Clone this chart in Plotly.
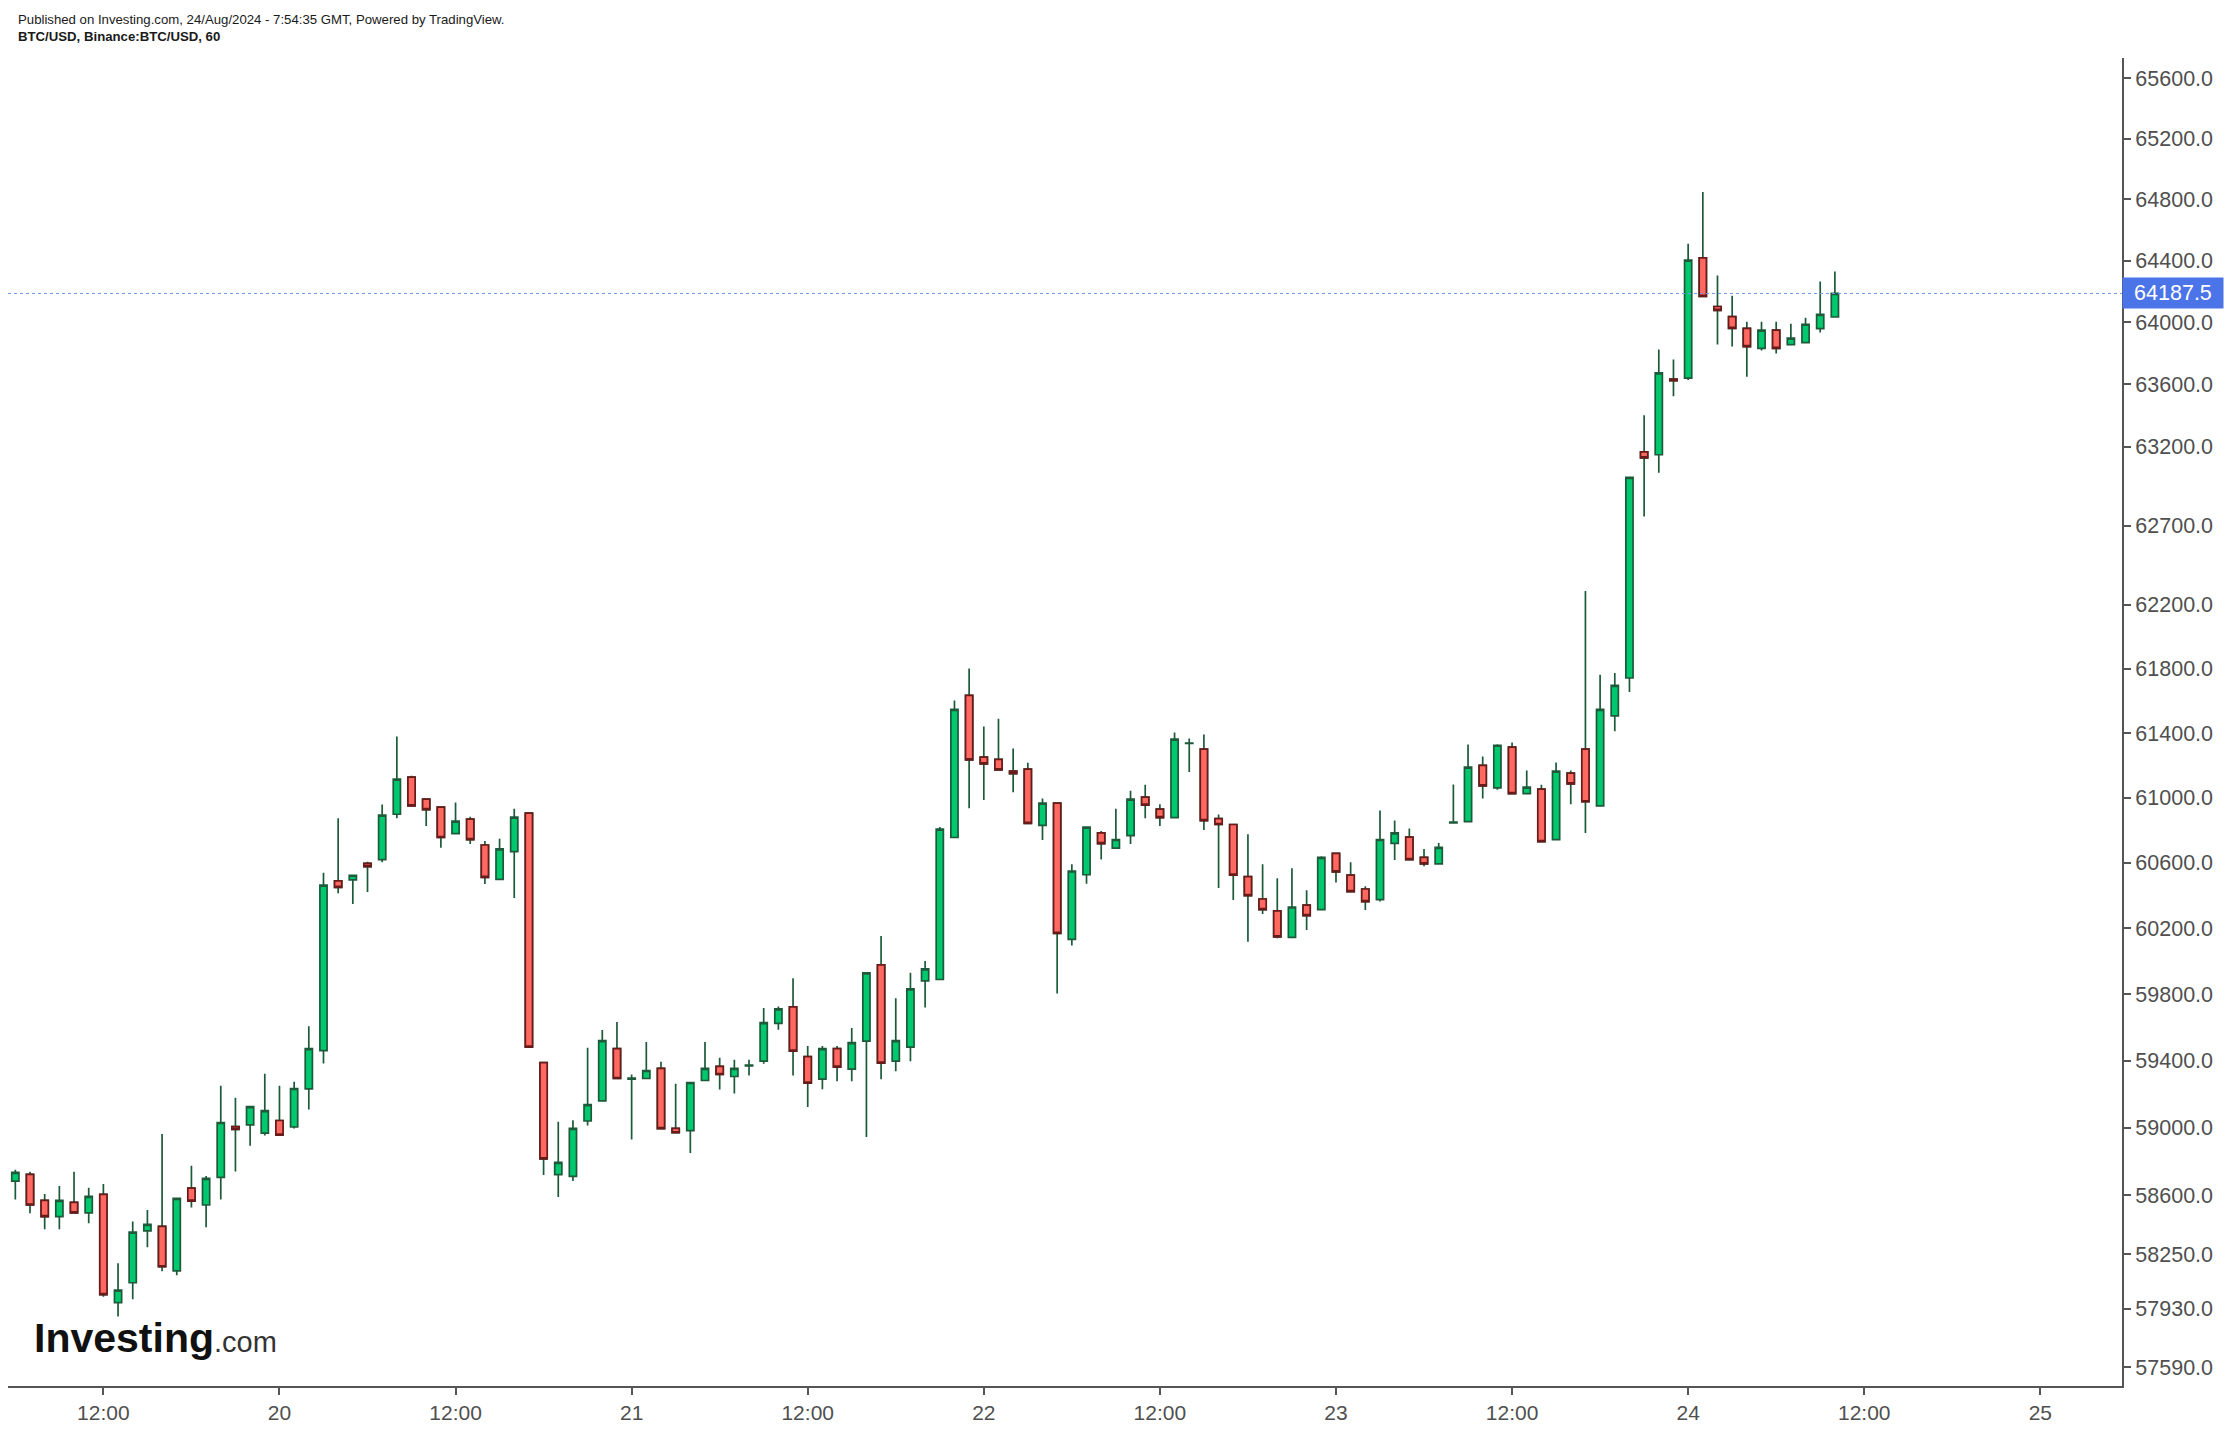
import math
import pandas as pd
import plotly.graph_objects as go

# ---- data (hourly BTC/USD candles, Aug 19 06:00 -> Aug 24 10:00) ----
open_ = [58683, 58722, 58568, 58472, 58556, 58494, 58604, 57966, 58083, 58388,
         58415, 58153, 58641, 58541, 58705, 59007, 59017, 58968, 59043, 59004,
         59232, 59461, 60489, 60496, 60597, 60620, 60898, 61127, 60991, 60942,
         60779, 60868, 60709, 60499, 60668, 60905, 59389, 58721, 58710, 59040,
         59160, 59473, 59290, 59294, 59354, 58996, 58982, 59282, 59366, 59306,
         59370, 59398, 59625, 59725, 59425, 59290, 59473, 59350, 59518, 59979,
         59398, 59482, 59881, 59890, 60755, 61634, 61250, 61237, 61164, 61176,
         60829, 60966, 60133, 60527, 60783, 60690, 60767, 61003, 60929, 60877,
         61335, 61300, 60871, 60835, 60516, 60379, 60306, 60145, 60342, 60314,
         60658, 60525, 60440, 60375, 60719, 60758, 60633, 60593, 60845, 60853,
         61200, 61061, 61312, 61025, 61053, 60742, 61152, 61300, 60950, 61506,
         61742, 63169, 63150, 63635, 63641, 64419, 64103, 64038, 63962, 63832,
         63950, 63856, 63870, 63960, 64035]
high = [58750, 58738, 58606, 58653, 58738, 58643, 58665, 58197, 58443, 58512,
        58963, 58585, 58774, 58713, 59250, 59178, 59130, 59322, 59250, 59274,
        59607, 60539, 60873, 60524, 60607, 60958, 61378, 61135, 60995, 60945,
        60970, 60883, 60733, 60748, 60932, 60905, 59389, 59035, 59045, 59478,
        59585, 59633, 59318, 59513, 59394, 59262, 59270, 59513, 59418, 59406,
        59406, 59717, 59727, 59898, 59489, 59489, 59489, 59597, 59930, 60153,
        59777, 59930, 60002, 60819, 61601, 61801, 61440, 61489, 61304, 61216,
        60995, 60966, 60591, 60819, 60795, 60932, 61043, 61079, 60960, 61403,
        61366, 61390, 60897, 60835, 60775, 60591, 60505, 60567, 60432, 60640,
        60660, 60603, 60456, 60921, 60860, 60811, 60685, 60722, 61081, 61329,
        61255, 61330, 61341, 61168, 61079, 61217, 61168, 62287, 61762, 61773,
        63006, 63402, 63825, 63761, 64511, 64848, 64304, 64172, 64004, 64004,
        64004, 63992, 64030, 64265, 64330]
low = [58574, 58492, 58398, 58398, 58490, 58433, 58001, 57885, 57987, 58292,
       58151, 58127, 58527, 58410, 58574, 58740, 58893, 58954, 58950, 58995,
       59108, 59384, 60414, 60348, 60421, 60604, 60874, 60945, 60825, 60693,
       60779, 60715, 60471, 60499, 60385, 59482, 58719, 58588, 58683, 59013,
       59160, 59294, 58930, 59294, 58994, 58970, 58849, 59282, 59228, 59204,
       59312, 59383, 59587, 59312, 59123, 59230, 59278, 59278, 58944, 59290,
       59338, 59398, 59721, 59890, 60755, 60935, 60985, 61172, 61034, 60842,
       60740, 59805, 60096, 60472, 60620, 60690, 60715, 60874, 60825, 60874,
       61158, 60801, 60446, 60373, 60118, 60288, 60140, 60140, 60190, 60310,
       60480, 60424, 60312, 60363, 60617, 60620, 60579, 60593, 60845, 60853,
       60995, 61049, 61025, 61025, 60730, 60742, 60960, 60782, 60950, 61410,
       61654, 62758, 63036, 63525, 63629, 64168, 63858, 63845, 63650, 63818,
       63799, 63856, 63870, 63935, 64035]
close = [58734, 58541, 58472, 58568, 58494, 58592, 58013, 58040, 58381, 58427,
         58177, 58580, 58564, 58699, 59031, 58990, 59126, 59102, 58956, 59234,
         59473, 60464, 60450, 60524, 60577, 60893, 61114, 60950, 60926, 60755,
         60856, 60742, 60511, 60685, 60880, 59482, 58814, 58794, 58996, 59138,
         59521, 59294, 59296, 59342, 58994, 58970, 59270, 59354, 59318, 59354,
         59374, 59629, 59713, 59458, 59266, 59473, 59362, 59509, 59930, 59386,
         59521, 59833, 59954, 60807, 61547, 61234, 61209, 61172, 61148, 60842,
         60966, 60169, 60550, 60819, 60718, 60743, 60991, 60954, 60877, 61362,
         61338, 60859, 60835, 60525, 60399, 60314, 60148, 60330, 60277, 60633,
         60544, 60424, 60363, 60743, 60783, 60620, 60593, 60694, 60850, 61188,
         61073, 61324, 61025, 61065, 60730, 61164, 61085, 60975, 61547, 61696,
         63006, 63130, 63674, 63625, 64404, 64168, 64078, 63962, 63844, 63950,
         63832, 63898, 63988, 64052, 64187.5]

last_price = 64187.5
x_tick_vals = ["2024-08-19 12:00", "2024-08-20 00:00", "2024-08-20 12:00", "2024-08-21 00:00",
               "2024-08-21 12:00", "2024-08-22 00:00", "2024-08-22 12:00", "2024-08-23 00:00",
               "2024-08-23 12:00", "2024-08-24 00:00", "2024-08-24 12:00", "2024-08-25 00:00"]
x_tick_text = ["12:00", "20", "12:00", "21", "12:00", "22", "12:00", "23", "12:00", "24", "12:00", "25"]
y_tick_vals = [57590, 57930, 58250, 58600, 59000, 59400, 59800, 60200, 60600, 61000, 61400,
               61800, 62200, 62700, 63200, 63600, 64000, 64400, 64800, 65200, 65600]
y_tick_text = [f"{v:.1f}" for v in y_tick_vals]

times = pd.date_range("2024-08-19 06:00", periods=len(open_), freq="h")

GREEN = "#00c86e"
GREEN_LINE = "#1d5a3a"
RED = "#ff6961"
RED_LINE = "#6b1a1a"
FONT = "Arial, Liberation Sans, sans-serif"

fig = go.Figure()
# full candles (wicks dark green for all)
fig.add_trace(go.Candlestick(
    x=times, open=open_, high=high, low=low, close=close,
    increasing=dict(line=dict(color=GREEN_LINE, width=1.7), fillcolor=GREEN),
    decreasing=dict(line=dict(color=GREEN_LINE, width=1.7), fillcolor=RED),
    whiskerwidth=0, hoverinfo="skip", name="BTC/USD"))

# red bodies with dark red border drawn on top
dn = [i for i in range(len(open_)) if close[i] < open_[i]]
fig.add_trace(go.Candlestick(
    x=[times[i] for i in dn],
    open=[open_[i] for i in dn], close=[close[i] for i in dn],
    high=[open_[i] for i in dn], low=[close[i] for i in dn],
    increasing=dict(line=dict(color=RED_LINE, width=1.7), fillcolor=RED),
    decreasing=dict(line=dict(color=RED_LINE, width=1.7), fillcolor=RED),
    whiskerwidth=0, hoverinfo="skip", name="down"))

fig.add_shape(type="line", xref="paper", x0=0, x1=1, yref="y", y0=last_price, y1=last_price,
              line=dict(color="#7096ee", width=1, dash="dot"))

# price badge (annotation y on a log axis is given in log10 units)
fig.add_annotation(xref="paper", x=1, xanchor="left", yref="y", y=math.log10(last_price),
                   yanchor="middle", text=f"{last_price:.1f}", showarrow=False, bgcolor="#4a74e8",
                   font=dict(family=FONT, size=21.5, color="white"),
                   width=98, height=28, borderpad=1, align="center")

fig.add_annotation(xref="paper", x=0.0038, xanchor="left", yref="paper", y=1.0293, yanchor="middle",
                   text="Published on Investing.com, 24/Aug/2024 - 7:54:35 GMT, Powered by TradingView.",
                   showarrow=False, font=dict(family=FONT, size=13.2, color="#1a1a1a"))
fig.add_annotation(xref="paper", x=0.0038, xanchor="left", yref="paper", y=1.0162, yanchor="middle",
                   text="<b>BTC/USD, Binance:BTC/USD, 60</b>",
                   showarrow=False, font=dict(family=FONT, size=13.2, color="#1a1a1a"))
fig.add_annotation(xref="paper", x=0.0115, xanchor="left", yref="paper", y=0.0361, yanchor="middle",
                   text="<b>Investing</b><span style='font-size:29px;font-weight:normal;color:#333'>.com</span>",
                   showarrow=False, font=dict(family=FONT, size=41, color="#111111"))

fig.update_layout(
    width=2230, height=1432,
    margin=dict(l=8, r=108, t=58, b=43),
    plot_bgcolor="white", paper_bgcolor="white",
    showlegend=False, boxgap=0.3, boxgroupgap=0.3,
    font=dict(family=FONT, color="#4f4f4f"),
    xaxis=dict(type="date", range=["2024-08-19 05:30", "2024-08-25 05:34"],
               tickmode="array", tickvals=x_tick_vals, ticktext=x_tick_text,
               showline=True, linecolor="#555555", linewidth=2,
               ticks="outside", ticklen=7, tickwidth=1.5, tickcolor="#555555",
               showgrid=False, zeroline=False, rangeslider=dict(visible=False),
               tickfont=dict(family=FONT, size=21, color="#4f4f4f")),
    yaxis=dict(type="log", side="right", range=[4.75952, 4.81778],
               tickmode="array", tickvals=y_tick_vals, ticktext=y_tick_text,
               showline=True, linecolor="#555555", linewidth=2,
               ticks="outside", ticklen=7, tickwidth=1.5, tickcolor="#555555",
               showgrid=False, zeroline=False,
               tickfont=dict(family=FONT, size=21.5, color="#4f4f4f")),
)

fig.write_html("out.html")
